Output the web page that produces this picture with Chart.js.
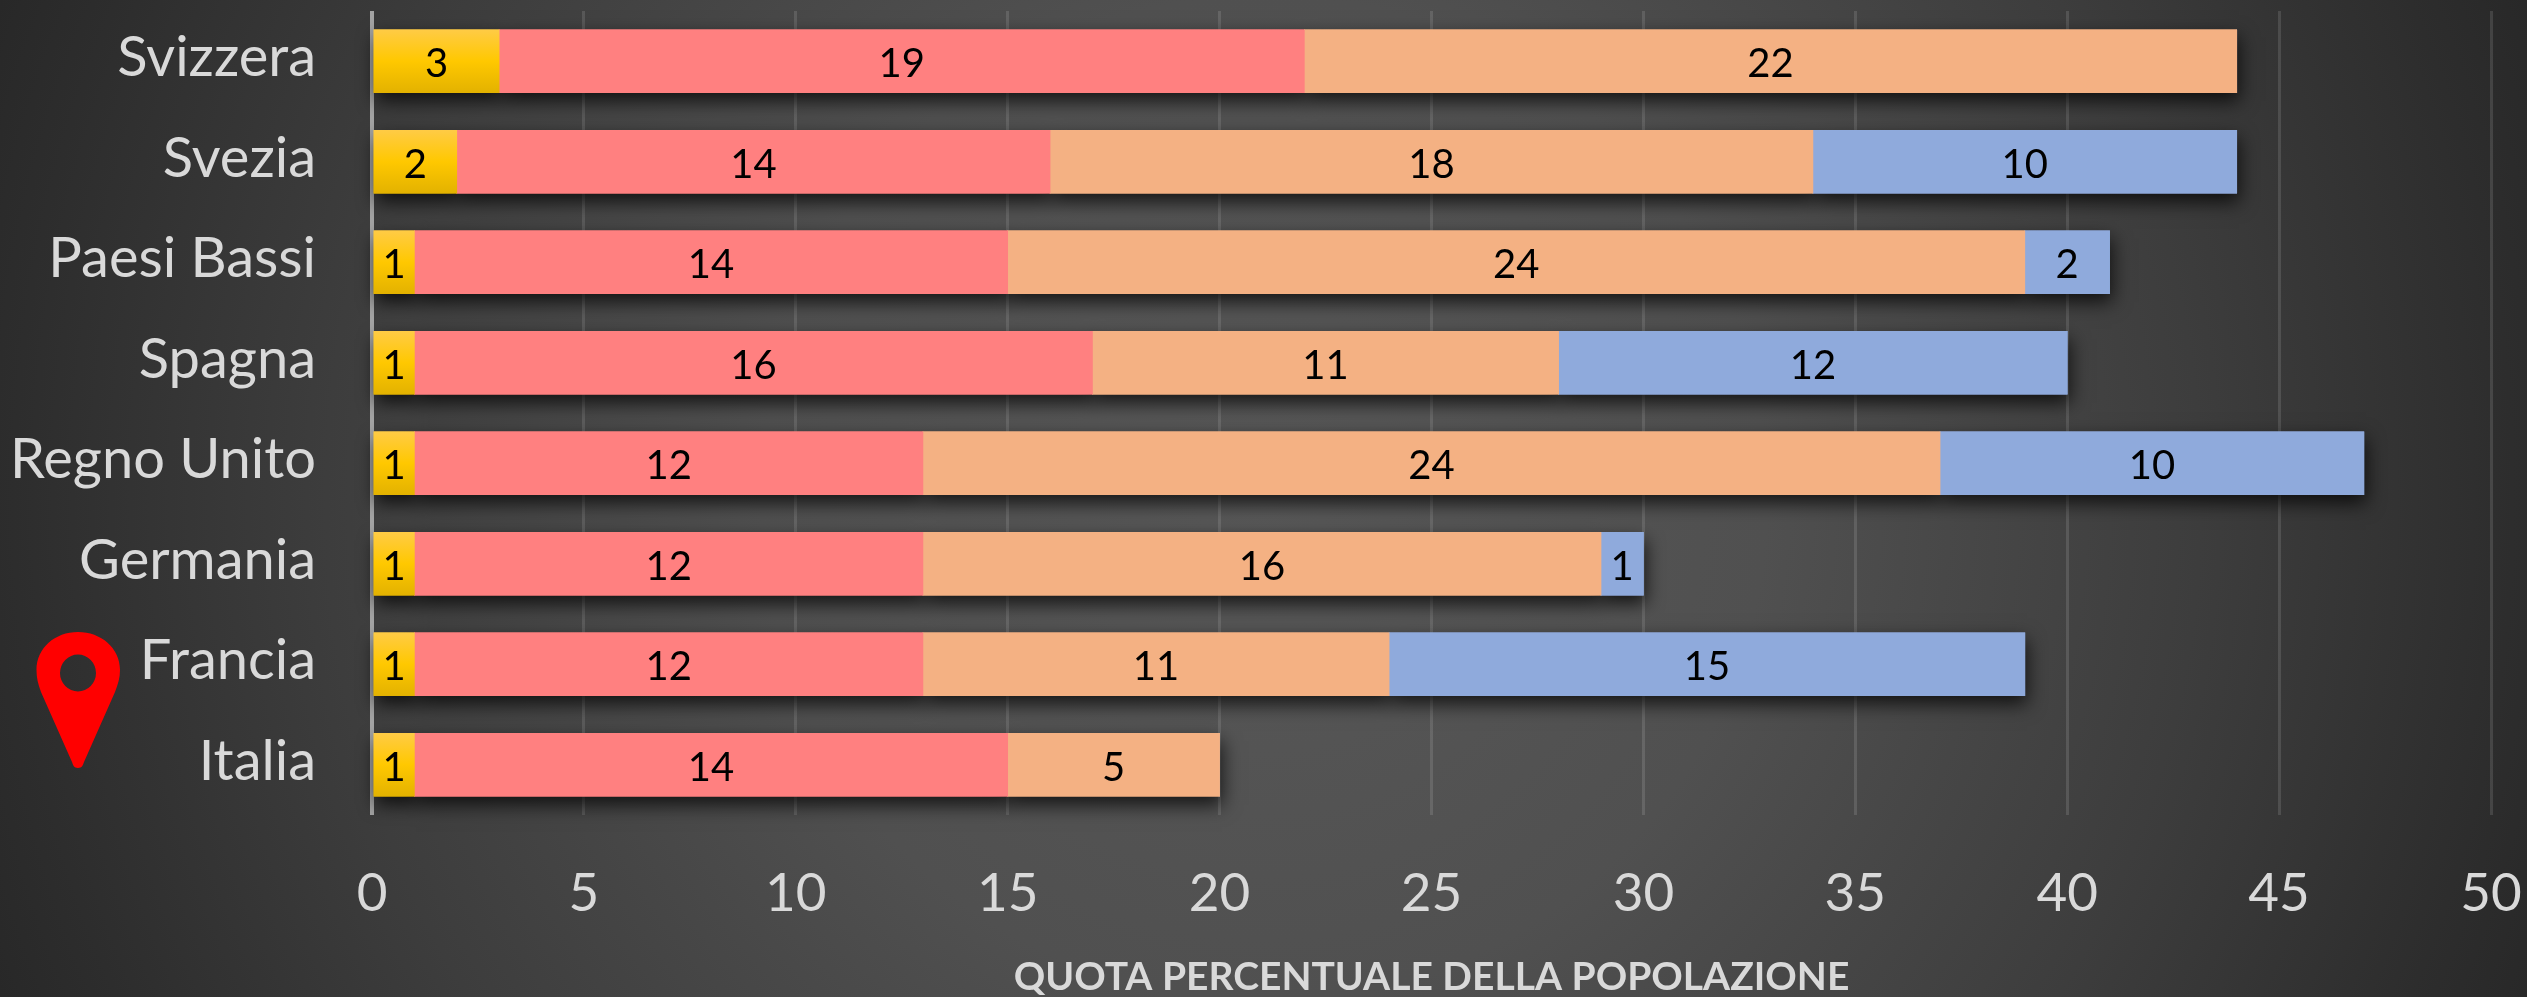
<!DOCTYPE html>
<html lang="it">
<head>
<meta charset="utf-8">
<title>Quota percentuale della popolazione</title>
<script src="https://cdn.jsdelivr.net/npm/chart.js@4"></script>
<style>
html,body{margin:0;padding:0;width:2527px;height:997px;overflow:hidden;
background:radial-gradient(circle farthest-corner at 50% 50%,#585858 0%,#505050 37%,#3d3d3d 69%,#2d2d2d 92%,#282828 100%);}
#wrap{position:absolute;left:0;top:0;width:2527px;height:997px;}
</style>
</head>
<body>
<div id="wrap"><canvas id="c" width="2527" height="997"></canvas></div>
<script>
const categories = ["Svizzera","Svezia","Paesi Bassi","Spagna","Regno Unito","Germania","Francia","Italia"];
const seriesYellow = [3,2,1,1,1,1,1,1];
const seriesRed    = [19,14,14,16,12,12,12,14];
const seriesOrange = [22,18,24,11,24,16,11,5];
const seriesBlue   = [0,10,2,12,10,1,15,0];
const axisTitle = "QUOTA PERCENTUALE DELLA POPOLAZIONE";
const FONT = 'Lato, "Open Sans", sans-serif';
const BAR_H = 63;

function yellowGradient(ctx){
  const chart = ctx.chart, y = chart.scales.y;
  if(!y || ctx.dataIndex === undefined) return '#FFC800';
  const cy = y.getPixelForValue(ctx.dataIndex);
  if(!isFinite(cy)) return '#FFC800';
  const g = chart.ctx.createLinearGradient(0, cy - BAR_H/2, 0, cy + BAR_H/2);
  g.addColorStop(0,'#FFCB45');
  g.addColorStop(0.5,'#FFC800');
  g.addColorStop(1,'#E3B200');
  return g;
}

const shadowPlugin = {
  id:'barShadow',
  beforeDatasetsDraw(chart){
    const c = chart.ctx;
    c.save();
    c.shadowColor='rgba(0,0,0,0.75)';
    c.shadowBlur=18;
    c.shadowOffsetX=2;
    c.shadowOffsetY=8;
    chart.data.datasets.forEach((d,i)=>{
      chart.getDatasetMeta(i).data.forEach((el,j)=>{ if(d.data[j]>0) el.draw(c); });
    });
    c.restore();
  }
};

const labelPlugin = {
  id:'barValues',
  afterDatasetsDraw(chart){
    const c = chart.ctx;
    c.save();
    c.font = '40px '+FONT;
    c.fillStyle='#000';
    c.textAlign='center';
    c.textBaseline='middle';
    chart.data.datasets.forEach((d,i)=>{
      chart.getDatasetMeta(i).data.forEach((el,j)=>{
        if(d.data[j]>0){
          const p = el.getCenterPoint();
          c.fillText(String(d.data[j]), p.x, p.y+3);
        }
      });
    });
    c.restore();
  }
};

const pinPlugin = {
  id:'pin',
  afterDraw(chart){
    const c = chart.ctx;
    c.save();
    c.fillStyle='#FF0000';
    const p = new Path2D();
    p.moveTo(78,768);
    p.bezierCurveTo(74,768,73,765,72,762);
    p.lineTo(41,692);
    p.bezierCurveTo(38,684,36.5,678,36.5,670);
    p.bezierCurveTo(36.5,648,55,632,78,632);
    p.bezierCurveTo(101,632,120,648,120,670);
    p.bezierCurveTo(120,678,118,684,115,692);
    p.lineTo(84,762);
    p.bezierCurveTo(83,765,82,768,78,768);
    p.closePath();
    p.moveTo(96,673);
    p.ellipse(78,673,18,18.5,0,0,Math.PI*2);
    p.closePath();
    c.fill(p,'evenodd');
    c.restore();
  }
};

function clearPad(s){ s.paddingLeft=0; s.paddingRight=0; s.paddingTop=0; s.paddingBottom=0; }

const chart = new Chart(document.getElementById('c'),{
  type:'bar',
  data:{
    labels:categories,
    datasets:[
      {label:'Giallo',data:seriesYellow,backgroundColor:yellowGradient},
      {label:'Rosso',data:seriesRed,backgroundColor:'#FF8080'},
      {label:'Arancione',data:seriesOrange,backgroundColor:'#F4B183'},
      {label:'Blu',data:seriesBlue,backgroundColor:'#8FAADC'}
    ]
  },
  plugins:[shadowPlugin,labelPlugin,pinPlugin],
  options:{
    indexAxis:'y',
    responsive:false,
    animation:false,
    devicePixelRatio:1,
    layout:{padding:{left:0,right:36,top:11,bottom:0}},
    datasets:{bar:{barThickness:BAR_H,borderWidth:0}},
    plugins:{legend:{display:false},tooltip:{enabled:false},title:{display:false}},
    scales:{
      x:{
        stacked:true,min:0,max:50,
        afterFit(s){s.height=997-815;clearPad(s);},
        grid:{
          drawTicks:false,
          color:c=>c.tick&&c.tick.value===0?'#a3a3a3':'rgba(255,255,255,0.12)',
          lineWidth:c=>c.tick&&c.tick.value===0?4:3
        },
        border:{display:false},
        ticks:{stepSize:5,maxRotation:0,autoSkip:false,padding:47,color:'#d9d9d9',font:{family:FONT,size:53,weight:400}},
        title:{display:true,text:axisTitle,color:'#d9d9d9',font:{family:FONT,size:39,weight:700},padding:{top:0,bottom:-4}}
      },
      y:{
        stacked:true,
        afterFit(s){s.width=372;clearPad(s);},
        grid:{display:false,drawTicks:false},
        border:{display:false},
        ticks:{
          padding:56,color:'#d9d9d9',autoSkip:false,
          font:{family:FONT,size:56,weight:400,lineHeight:'6px'},
          callback(v){return [this.getLabelForValue(v),''];}
        }
      }
    }
  }
});
</script>
</body>
</html>
